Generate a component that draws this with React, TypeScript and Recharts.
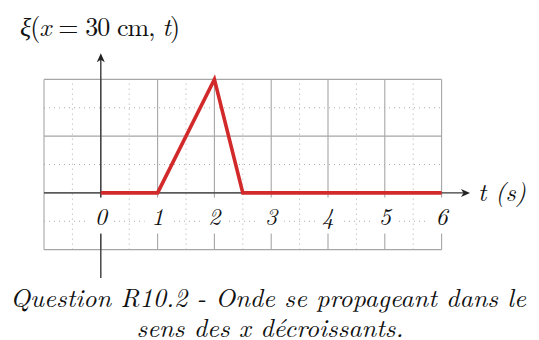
import React from 'react';
import { LineChart, Line, XAxis, YAxis, ReferenceLine, ReferenceDot } from 'recharts';

const tValues = [0, 1, 2, 2.5, 6];
const xiValues = [0, 0, 2, 0, 0];
const tickValues = [0, 1, 2, 3, 4, 5, 6];
const tickLabels = ['0', '1', '2', '3', '4', '5', '6'];
const majorX = [-1, 0, 1, 2, 3, 4, 5, 6];
const minorX = [-0.5, 0.5, 1.5, 2.5, 3.5, 4.5, 5.5];
const majorY = [-1, 0, 1, 2];
const minorY = [-0.5, 0.5, 1.5];
const gridX: [number, number] = [-1, 6];
const gridY: [number, number] = [-1, 2];
const xDomain: [number, number] = [-1, 6.5];
const yDomain: [number, number] = [-1.5, 2.5];
const yAxisTop = 2.46;
const labelY = -0.4;
const captionLine1 = 'Question R10.2 - Onde se propageant dans le';
const captionLine2a = 'sens des ';
const captionLine2b = 'x';
const captionLine2c = ' décroissants.';

const data = tValues.map((t, i) => ({ t, xi: xiValues[i] }));

const SERIF = '"Latin Modern Roman", "Liberation Serif", serif';
const textStyle: React.CSSProperties = { fontFamily: SERIF, fontVariantNumeric: 'lining-nums', fontFeatureSettings: '"lnum" 1, "onum" 0' };

const HArrow = (p: any) => (
  <g>
    <line x1={p.x1} y1={p.y1} x2={p.x2 - 3} y2={p.y2} stroke="#3a3a3a" strokeWidth={1.4} />
    <path d={`M${p.x2},${p.y2} L${p.x2 - 9},${p.y2 - 4} L${p.x2 - 6.5},${p.y2} L${p.x2 - 9},${p.y2 + 4} Z`} fill="#222" />
  </g>
);

const VArrow = (p: any) => {
  const tipY = Math.min(p.y1, p.y2);
  const botY = Math.max(p.y1, p.y2);
  return (
    <g>
      <line x1={p.x1} y1={botY} x2={p.x1} y2={tipY + 3} stroke="#3a3a3a" strokeWidth={1.4} />
      <path d={`M${p.x1},${tipY} L${p.x1 - 4},${tipY + 9} L${p.x1},${tipY + 6.5} L${p.x1 + 4},${tipY + 9} Z`} fill="#222" />
    </g>
  );
};

const makeLabel = (text: string) => (p: any) => (
  <g>
    <rect x={p.cx - 13} y={p.cy - 18} width={26} height={36} fill="#fff" />
    <text x={p.cx} y={p.cy + 9} textAnchor="middle" style={textStyle} fontStyle="italic" fontSize={24} fill="#111">
      {text}
    </text>
  </g>
);

export default function App() {
  return (
    <div style={{ position: 'absolute', left: 0, top: 0, width: 539, height: 340, background: '#fff' }}>
      <LineChart width={539} height={340} data={data} margin={{ top: 51, right: 69, bottom: 62, left: 44 }}>
        <XAxis type="number" dataKey="t" domain={xDomain} hide allowDataOverflow />
        <YAxis type="number" domain={yDomain} hide allowDataOverflow />
        {minorX.map((v) => (
          <ReferenceLine key={`mx${v}`} segment={[{ x: v, y: gridY[0] }, { x: v, y: gridY[1] }]} stroke="#aaa" strokeWidth={1} strokeDasharray="1 4" />
        ))}
        {minorY.map((v) => (
          <ReferenceLine key={`my${v}`} segment={[{ x: gridX[0], y: v }, { x: gridX[1], y: v }]} stroke="#aaa" strokeWidth={1} strokeDasharray="1 4" />
        ))}
        {majorX.map((v) => (
          <ReferenceLine key={`Mx${v}`} segment={[{ x: v, y: gridY[0] }, { x: v, y: gridY[1] }]} stroke="#a6a6a6" strokeWidth={1.1} />
        ))}
        {majorY.map((v) => (
          <ReferenceLine key={`My${v}`} segment={[{ x: gridX[0], y: v }, { x: gridX[1], y: v }]} stroke="#a6a6a6" strokeWidth={1.1} />
        ))}
        <ReferenceLine segment={[{ x: gridX[0], y: 0 }, { x: xDomain[1], y: 0 }]} shape={HArrow} ifOverflow="visible" />
        <ReferenceLine segment={[{ x: 0, y: yDomain[0] }, { x: 0, y: yAxisTop }]} shape={VArrow} ifOverflow="visible" />
        {tickValues.map((v, i) => (
          <ReferenceDot key={`lb${v}`} x={v} y={labelY} r={0} shape={makeLabel(tickLabels[i])} ifOverflow="visible" />
        ))}
        <Line type="linear" dataKey="xi" stroke="#d22a2a" strokeWidth={3.6} dot={false} isAnimationActive={false} strokeLinejoin="miter" />
      </LineChart>
      <svg width={539} height={340} style={{ position: 'absolute', left: 0, top: 0, pointerEvents: 'none', ...textStyle }}>
        <text x={100} y={36} textAnchor="middle" fontSize={26} fill="#111" textLength={160} lengthAdjust="spacing">
          <tspan fontStyle="italic">ξ</tspan>
          <tspan>(</tspan>
          <tspan fontStyle="italic">x</tspan>
          <tspan> = 30 cm, </tspan>
          <tspan fontStyle="italic">t</tspan>
          <tspan>)</tspan>
        </text>
        <text x={478} y={201} fontStyle="italic" fontSize={25} fill="#111">
          t  (s)
        </text>
        <text x={268} y={307} textAnchor="middle" fontStyle="italic" fontSize={26} fill="#111">
          {captionLine1}
        </text>
        <text x={270} y={337} textAnchor="middle" fontStyle="italic" fontSize={26} fill="#111">
          {captionLine2a}{captionLine2b}{captionLine2c}
        </text>
      </svg>
    </div>
  );
}
